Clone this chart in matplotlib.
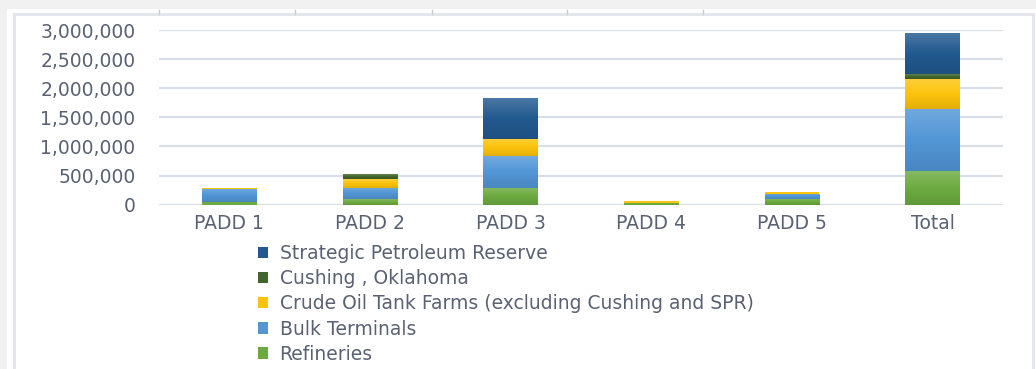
import matplotlib
matplotlib.use("Agg")
import matplotlib.pyplot as plt
from matplotlib.patches import Rectangle, Patch
from matplotlib.lines import Line2D
from matplotlib.colors import to_rgb
from matplotlib.ticker import FuncFormatter
import numpy as np

# ── Data: working storage capacity by PADD (barrels) ─────────────────────────
categories = ["PADD 1", "PADD 2", "PADD 3", "PADD 4", "PADD 5", "Total"]
refineries = [38000, 95000, 295000, 28000, 105000, 575000]
bulk_terminals = [230000, 200000, 537000, 6000, 86000, 1070000]
crude_tank_farms = [17000, 150000, 300000, 24000, 24000, 513000]
cushing = [0, 82000, 0, 0, 0, 82000]
spr = [0, 0, 704000, 0, 0, 704000]

series = [
    ("Refineries", refineries, "#6caa40"),
    ("Bulk Terminals", bulk_terminals, "#5296d6"),
    ("Crude Oil Tank Farms (excluding Cushing and SPR)", crude_tank_farms, "#fcc30c"),
    ("Cushing , Oklahoma", cushing, "#41652a"),
    ("Strategic Petroleum Reserve", spr, "#22598f"),
]

W, H = 1036, 369
TEXT = "#5a6172"
GRID = "#dadee5"
FS = 13.5


def fx(x):
    return x / W


def fy(y):
    return 1 - y / H


def shade(color, top=0.18, bottom=0.9):
    """Vertical gradient image (top lighter, bottom darker) for one bar segment."""
    c = np.array(to_rgb(color))
    hi = c + (1 - c) * top
    lo = c * bottom
    t = np.linspace(0, 1, 64)[:, None]
    mid = np.where(t < 0.5, hi + (c - hi) * (t / 0.5), c + (lo - c) * ((t - 0.5) / 0.5))
    return mid[:, None, :]


fig = plt.figure(figsize=(W / 100, H / 100), dpi=100, facecolor="#f1f1f1")

# white panel with a thin light frame
fig.add_artist(Rectangle((fx(7), 0), fx(W) - fx(7), fy(9), transform=fig.transFigure,
                         facecolor="white", edgecolor="none", zorder=0))
frame_kw = dict(transform=fig.transFigure, color="#e1e5eb", lw=2, zorder=1)
fig.add_artist(Line2D([fx(14), fx(14)], [0, fy(14)], **frame_kw))
fig.add_artist(Line2D([fx(14), fx(1033)], [fy(14), fy(14)], **frame_kw))
fig.add_artist(Line2D([fx(1033), fx(1033)], [0, fy(14)], **frame_kw))
for tx in [159, 295, 432, 567, 703]:
    fig.add_artist(Line2D([fx(tx), fx(tx)], [fy(10), fy(14)], transform=fig.transFigure,
                          color="#c8ccd2", lw=1, zorder=1))

# ── Stacked bars ─────────────────────────────────────────────────────────────
ax = fig.add_axes([fx(159), fy(204.7), fx(1003) - fx(159), fy(30) - fy(204.7)])
ax.set_facecolor("none")
x = np.arange(len(categories))
bottom = np.zeros(len(categories))
for name, vals, color in series:
    bars = ax.bar(x, vals, width=0.39, bottom=bottom, color=color, label=name,
                  edgecolor="none", zorder=3)
    grad = shade(color)
    for rect in bars:
        # thin slivers stay flat; the gradient only matters on taller segments
        if rect.get_height() < 60000:
            continue
        x0, y0 = rect.get_x(), rect.get_y()
        im = ax.imshow(grad, extent=(x0, x0 + rect.get_width(), y0, y0 + rect.get_height()),
                       aspect="auto", origin="upper", zorder=3.5, interpolation="bilinear")
        im.set_clip_path(rect)
    bottom += np.array(vals)

ax.set_xlim(-0.5, len(categories) - 0.5)
ax.set_ylim(0, 3000000)
ax.set_yticks(np.arange(0, 3000001, 500000))
ax.yaxis.set_major_formatter(FuncFormatter(lambda v, _: f"{int(v):,}"))
ax.set_xticks(x)
ax.set_xticklabels(categories)
ax.grid(axis="y", color=GRID, lw=1.6, zorder=0)
ax.set_axisbelow(True)
for s in ax.spines.values():
    s.set_visible(False)
ax.tick_params(axis="both", length=0, labelsize=FS, labelcolor=TEXT)
ax.tick_params(axis="y", pad=17)
ax.tick_params(axis="x", pad=7)

# ── Legend (top series first) ────────────────────────────────────────────────
handles = [Patch(facecolor=c, edgecolor="none") for _, _, c in series][::-1]
labels = [n for n, _, _ in series][::-1]
fig.legend(handles, labels, loc="upper left", bbox_to_anchor=(fx(258), fy(244)),
           frameon=False, fontsize=FS, labelcolor=TEXT, borderpad=0, borderaxespad=0,
           handlelength=0.55, handleheight=0.55, handletextpad=0.6, labelspacing=0.33)

fig.savefig("out.png", dpi=100, facecolor=fig.get_facecolor())
